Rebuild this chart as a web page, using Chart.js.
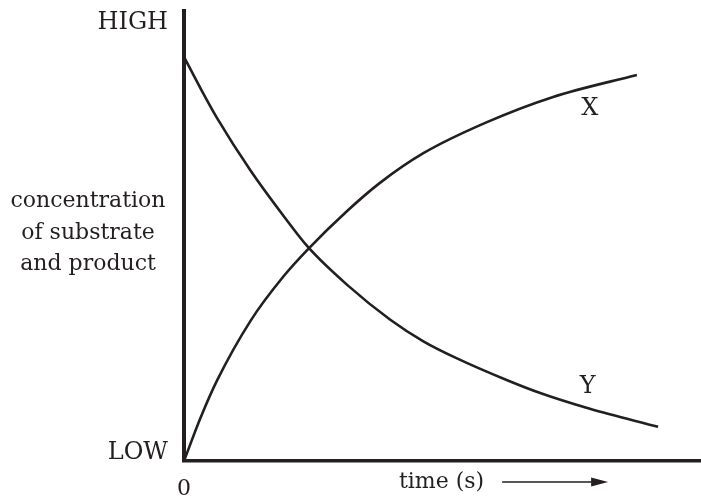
<!DOCTYPE html>
<html>
<head>
<meta charset="utf-8">
<script src="https://cdn.jsdelivr.net/npm/chart.js@4.4.1/dist/chart.umd.min.js"></script>
<style>
  html, body { margin: 0; padding: 0; background: #fff; }
  #wrap { width: 701px; height: 501px; }
</style>
</head>
<body>
<div id="wrap"><canvas id="chart" width="701" height="501"></canvas></div>
<script>
// --- Data (time in arbitrary units, concentration 0 = LOW .. 100 = HIGH) ---
const timeX = [0, 0.32, 0.64, 1.29, 1.93, 2.41, 3.15, 3.79, 4.63, 5.86, 7.14, 8.76];
const productX = [0, 9.6, 17.9, 31.2, 41.1, 47.2, 55.5, 61.8, 68.4, 75.3, 80.9, 85.8];

const timeY = [0, 0.32, 0.64, 1.29, 1.93, 2.41, 3.15, 3.99, 4.63, 5.28, 6.24, 6.89, 7.85, 9.17];
const substrateY = [89.8, 82.8, 76.2, 64.5, 54.4, 47.4, 39.2, 31.4, 26.6, 22.8, 18.0, 15.1, 11.6, 7.6];

const yTickValues = [1.8, 97.4];
const yTickLabels = ["LOW", "HIGH"];
const xTickValues = [0];
const xTickLabels = ["0"];

const curveNames = ["X", "Y"];
const yTitleLines = ["concentration", "of substrate", "and product"];
const xTitle = "time (s)";

const ink = "#231f20";
const serif = "'DejaVu Serif', 'Liberation Serif', serif";

const toPoints = (xs, ys) => xs.map((x, i) => ({ x: x, y: ys[i] }));

// axis titles, arrow and curve labels
const annotationsPlugin = {
  id: 'annotations',
  afterDraw(chart, args, opts) {
    const { ctx, chartArea } = chart;
    const xs = chart.scales.x, ys = chart.scales.y;
    ctx.save();
    ctx.fillStyle = ink;
    ctx.strokeStyle = ink;

    // y title, horizontal, three lines
    ctx.font = `22px ${serif}`;
    ctx.textAlign = 'center';
    ctx.textBaseline = 'alphabetic';
    const cy = (chartArea.top + chartArea.bottom) / 2;
    yTitleLines.forEach((line, i) => {
      ctx.fillText(line, chartArea.left - 96, cy - 29 + i * 31.5);
    });

    // x title with arrow
    const cx = (chartArea.left + chartArea.right) / 2 - 1;
    const ty = chartArea.bottom + 27;
    ctx.fillText(xTitle, cx, ty);
    const tRight = cx + ctx.measureText(xTitle).width / 2;
    const a0 = tRight + 18, a1 = a0 + 106, ay = ty - 6;
    ctx.lineWidth = 1.5;
    ctx.beginPath();
    ctx.moveTo(a0, ay);
    ctx.lineTo(a1 - 14, ay);
    ctx.stroke();
    ctx.beginPath();
    ctx.moveTo(a1 - 17, ay - 4.5);
    ctx.lineTo(a1, ay);
    ctx.lineTo(a1 - 17, ay + 4.5);
    ctx.closePath();
    ctx.fill();

    // curve labels
    ctx.font = `24px ${serif}`;
    ctx.textBaseline = 'middle';
    opts.labels.forEach(l => {
      ctx.fillText(l.text, xs.getPixelForValue(l.x), ys.getPixelForValue(l.y));
    });
    ctx.restore();
  }
};

new Chart(document.getElementById('chart').getContext('2d'), {
  type: 'line',
  data: {
    datasets: [
      { label: curveNames[0], data: toPoints(timeX, productX), borderColor: ink, borderWidth: 2.6,
        pointRadius: 0, cubicInterpolationMode: 'monotone', fill: false },
      { label: curveNames[1], data: toPoints(timeY, substrateY), borderColor: ink, borderWidth: 2.6,
        pointRadius: 0, cubicInterpolationMode: 'monotone', fill: false }
    ]
  },
  options: {
    responsive: false,
    animation: false,
    layout: { padding: { top: 11, right: 0, bottom: 0, left: 0 } },
    plugins: {
      legend: { display: false },
      tooltip: { enabled: false },
      annotations: {
        labels: [
          { text: curveNames[0], x: 7.85, y: 78.2 },
          { text: curveNames[1], x: 7.81, y: 16.4 }
        ]
      }
    },
    scales: {
      x: {
        type: 'linear',
        min: 0,
        max: 10,
        grid: { display: false, drawTicks: false },
        border: { display: true, color: ink, width: 3.5 },
        afterBuildTicks: s => { s.ticks = xTickValues.map(v => ({ value: v })); },
        afterFit: s => { s.height = 40; s.paddingLeft = 0; s.paddingRight = 0; },
        ticks: {
          padding: 15,
          color: ink,
          font: { family: serif, size: 22 },
          maxRotation: 0,
          callback: (v, i) => xTickLabels[i]
        }
      },
      y: {
        type: 'linear',
        min: 0,
        max: 100,
        grid: { display: false, drawTicks: false },
        border: { display: true, color: ink, width: 4 },
        afterBuildTicks: s => { s.ticks = yTickValues.map(v => ({ value: v })); },
        afterFit: s => { s.width = 184; s.paddingTop = 0; s.paddingBottom = 0; },
        ticks: {
          padding: 16,
          color: ink,
          font: { family: serif, size: 24 },
          callback: (v, i) => yTickLabels[i]
        }
      }
    }
  },
  plugins: [annotationsPlugin]
});
</script>
</body>
</html>
